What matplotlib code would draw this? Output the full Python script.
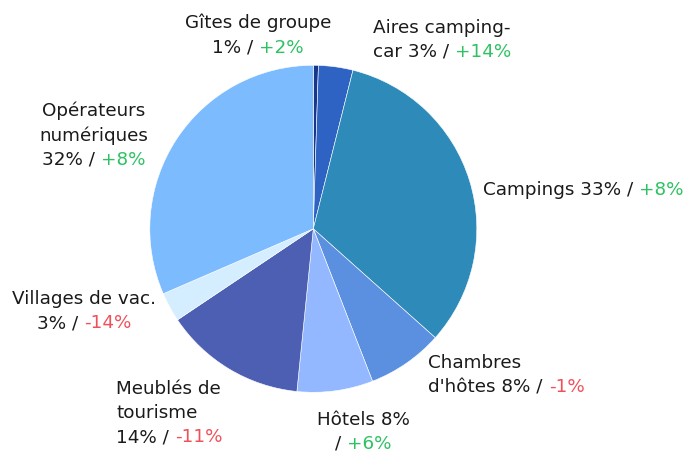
import numpy as np
import matplotlib
matplotlib.use("Agg")
import matplotlib.pyplot as plt
from matplotlib.offsetbox import TextArea, HPacker, VPacker, AnnotationBbox

# ---------------- data ----------------
categories = ["Gîtes de groupe", "Aires camping-car", "Campings", "Chambres d'hôtes",
              "Hôtels", "Meublés de tourisme", "Villages de vac.", "Opérateurs numériques"]
slice_values = [0.5, 3.4, 32.7, 7.5, 7.5, 14.0, 2.9, 31.5]
share_labels = ["1%", "3%", "33%", "8%", "8%", "14%", "3%", "32%"]
evolutions = ["+2%", "+14%", "+8%", "-1%", "+6%", "-11%", "-14%", "+8%"]

# ---------------- style ----------------
colors = ["#17378a", "#2e63c4", "#2e8bb9", "#5b8fe0", "#93b8ff", "#4c5fb3", "#d4edff", "#7dbbff"]
label_templates = ["Gîtes de groupe\n{s} / {e}", "Aires camping-\ncar {s} / {e}", "Campings {s} / {e}",
                   "Chambres\nd'hôtes {s} / {e}", "Hôtels {s}\n/ {e}", "Meublés de\ntourisme\n{s} / {e}",
                   "Villages de vac.\n{s} / {e}", "Opérateurs\nnumériques\n{s} / {e}"]
# offsets (pixels, image convention: +x right, +y down) from wedge-edge midpoint to label block center
label_offsets = [(-58, -30), (106, -27), (114, 9), (100, 12), (28, 41), (-60, 44), (-86, 4), (-83, -4)]
label_align = ["center", "center", "left", "left", "center", "left", "center", "center"]
TEXT = "#1a1a1a"
GREEN = "#2ec262"
RED = "#f0505a"
FONT = ["DejaVu Sans"]
FS = 13.2

W, H = 687, 455
cx, cy, R = 313.3, 228.8, 163.5

fig = plt.figure(figsize=(W / 100, H / 100), dpi=100)
fig.patch.set_facecolor("white")
ax = fig.add_axes([(cx - R) / W, (H - cy - R) / H, 2 * R / W, 2 * R / H])
wedges, _ = ax.pie(slice_values, colors=colors, startangle=90, counterclock=False,
                   radius=1.0, wedgeprops=dict(edgecolor="white", linewidth=0.4))
ax.set_xlim(-1, 1)
ax.set_ylim(-1, 1)
ax.set_aspect("equal")
ax.axis("off")

for i, w in enumerate(wedges):
    mid = np.deg2rad((w.theta1 + w.theta2) / 2)
    px, py = np.cos(mid), np.sin(mid)
    text = label_templates[i].replace("{s}", share_labels[i])
    ecol = GREEN if evolutions[i].startswith("+") else RED
    rows = []
    for line in text.split("\n"):
        segs = []
        if "{e}" in line:
            before = line.replace("{e}", "")
            if before:
                segs.append(TextArea(before, textprops=dict(color=TEXT, fontsize=FS, family=FONT)))
            segs.append(TextArea(evolutions[i], textprops=dict(color=ecol, fontsize=FS, family=FONT)))
        else:
            segs.append(TextArea(line, textprops=dict(color=TEXT, fontsize=FS, family=FONT)))
        rows.append(HPacker(children=segs, pad=0, sep=0, align="baseline"))
    box = VPacker(children=rows, pad=0, sep=4.5, align=label_align[i])
    dx, dy = label_offsets[i]
    ab = AnnotationBbox(box, (px, py), xybox=(dx, -dy), xycoords="data",
                        boxcoords="offset pixels", box_alignment=(0.5, 0.5),
                        frameon=False, annotation_clip=False, pad=0)
    ax.add_artist(ab)

fig.savefig("out.png", dpi=100, facecolor="white")
